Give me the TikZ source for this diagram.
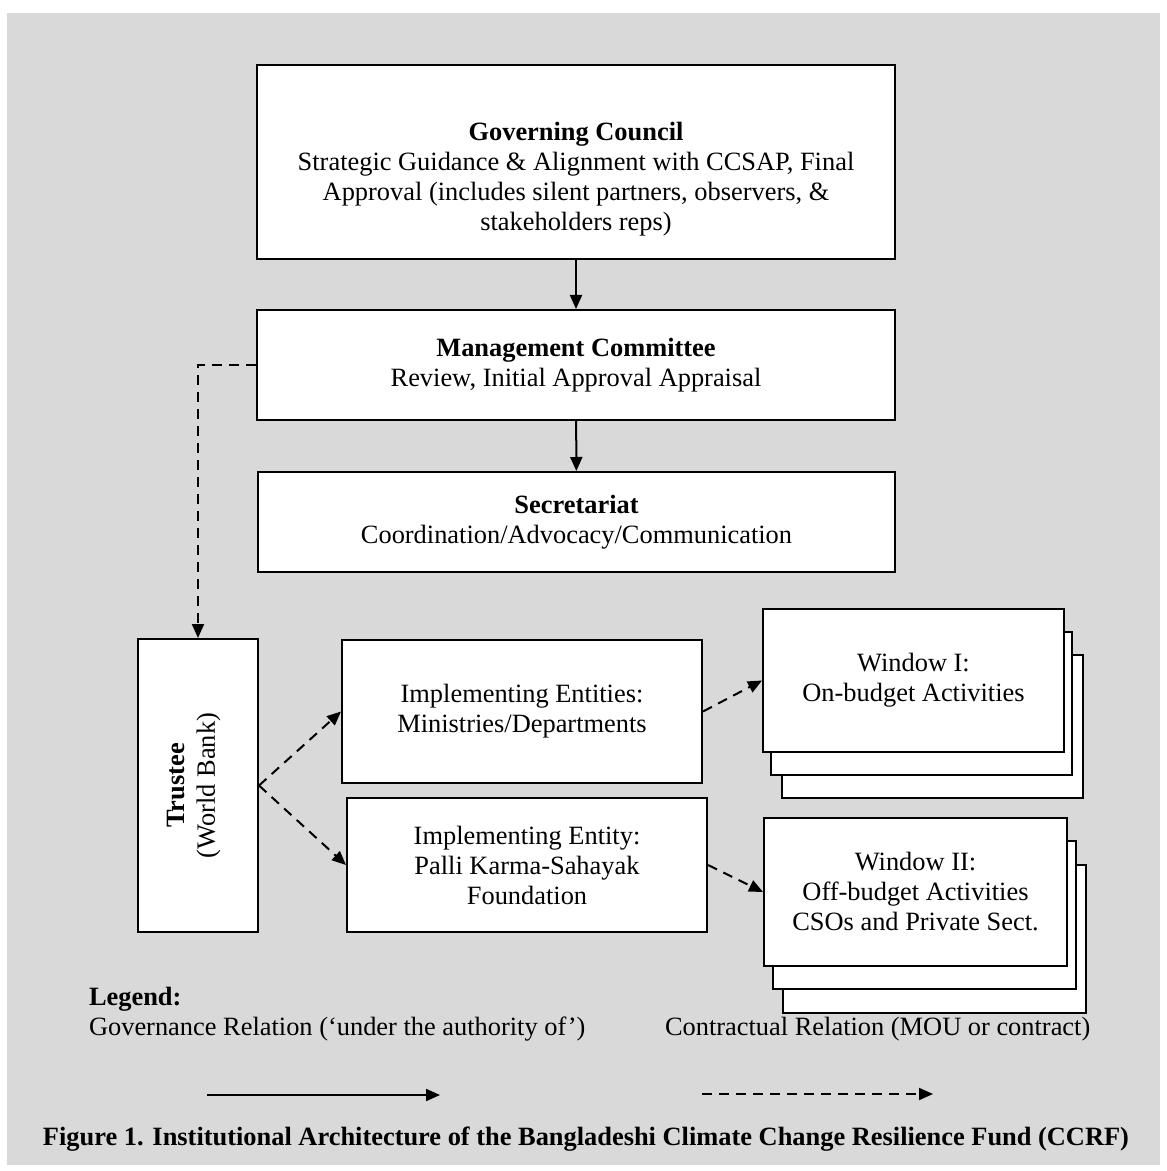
\documentclass[tikz,border=0pt]{standalone}
\usepackage{fontspec}
\setmainfont{Liberation Serif}
\usetikzlibrary{arrows.meta,positioning}
\definecolor{bgpanel}{RGB}{217,217,217}

\begin{document}
\begin{tikzpicture}[x=0.5pt,y=-0.5pt,
  every node/.style={font=\fontsize{13.2pt}{15pt}\selectfont},
  box/.style={draw,line width=1pt,fill=white,align=center,inner sep=0pt},
  govarrow/.style={line width=1pt,-{Triangle[length=7pt,width=6pt]}},
  contract/.style={line width=1pt,dash pattern=on 5pt off 3.5pt,-{Triangle[length=7pt,width=6pt]}}]

\useasboundingbox (0,0) rectangle (1166,1171);
\fill[bgpanel] (7,13) rectangle (1160,1165);

% fund bodies
\node[box,minimum width=319pt,minimum height=97pt] (gc) at (576,162.5) {};
\node[align=center] (gctext) at (576,179) {\textbf{Governing Council}\\Strategic Guidance \& Alignment with CCSAP, Final\\Approval (includes silent partners, observers, \&\\stakeholders reps)};
\node[box,minimum width=319pt,minimum height=55pt] (mc) at (576,365) {\textbf{Management Committee}\\Review, Initial Approval Appraisal};
\node[box,minimum width=318.5pt,minimum height=50pt] (sec) at (576.5,522) {\textbf{Secretariat}\\Coordination/Advocacy/Communication};

\node[box,minimum width=60pt,minimum height=146.5pt] (trustee) at (198,785.5) {};
\node[rotate=90,align=center] (trusteetext) at ([xshift=-2pt]trustee.center) {\textbf{Trustee}\\(World Bank)};

\node[box,minimum width=180pt,minimum height=71.5pt] (ie) at (522,711.5) {Implementing Entities:\\Ministries/Departments};
\node[box,minimum width=180pt,minimum height=67pt] (pksf) at (527,865) {Implementing Entity:\\Palli Karma-Sahayak\\Foundation};

% stacked windows
\foreach \dx/\dy/\n in {19/46/c,8/23/b}
  \node[box,minimum width=150.5pt,minimum height=71.5pt] (win1\n) at (913.5+\dx,680.5+\dy) {};
\node[box,minimum width=150.5pt,minimum height=71.5pt] (win1) at (913.5,680.5) {Window I:\\On-budget Activities};

\foreach \dx/\dy/\n in {19/47/c,9/23/b}
  \node[box,minimum width=151.5pt,minimum height=74pt] (win2\n) at (915.5+\dx,892+\dy) {};
\node[box,minimum width=151.5pt,minimum height=74pt] (win2) at (915.5,892) {Window II:\\Off-budget Activities\\CSOs and Private Sect.};

% relations
\draw[govarrow] (gc) -- (mc);
\draw[govarrow] (mc) -- (sec);
\draw[contract] (mc.west) -| (trustee.north);
\draw[contract] (trustee.east) -- (ie.west);
\draw[contract] (trustee.east) -- (pksf.west);
\draw[contract] (ie.east) -- (win1.west);
\draw[contract] (pksf.east) -- (win2.west);

% legend
\node[anchor=base west] (legend) at (82,1005) {\textbf{Legend:}};
\node[anchor=base west] (govtext) at (82,1035) {Governance Relation (‘under the authority of’)};
\node[anchor=base west] (contracttext) at (658,1035) {Contractual Relation (MOU or contract)};
\coordinate (gov-s) at (207,1095);
\coordinate (gov-e) at (440,1095);
\draw[govarrow] (gov-s) -- (gov-e);
\coordinate (con-s) at (702,1094);
\coordinate (con-e) at (933,1094);
\draw[contract] (con-s) -- (con-e);

\node[anchor=base] (caption) at (586,1145) {\textbf{Figure 1. Institutional Architecture of the Bangladeshi Climate Change Resilience Fund (CCRF)}};
\end{tikzpicture}
\end{document}
